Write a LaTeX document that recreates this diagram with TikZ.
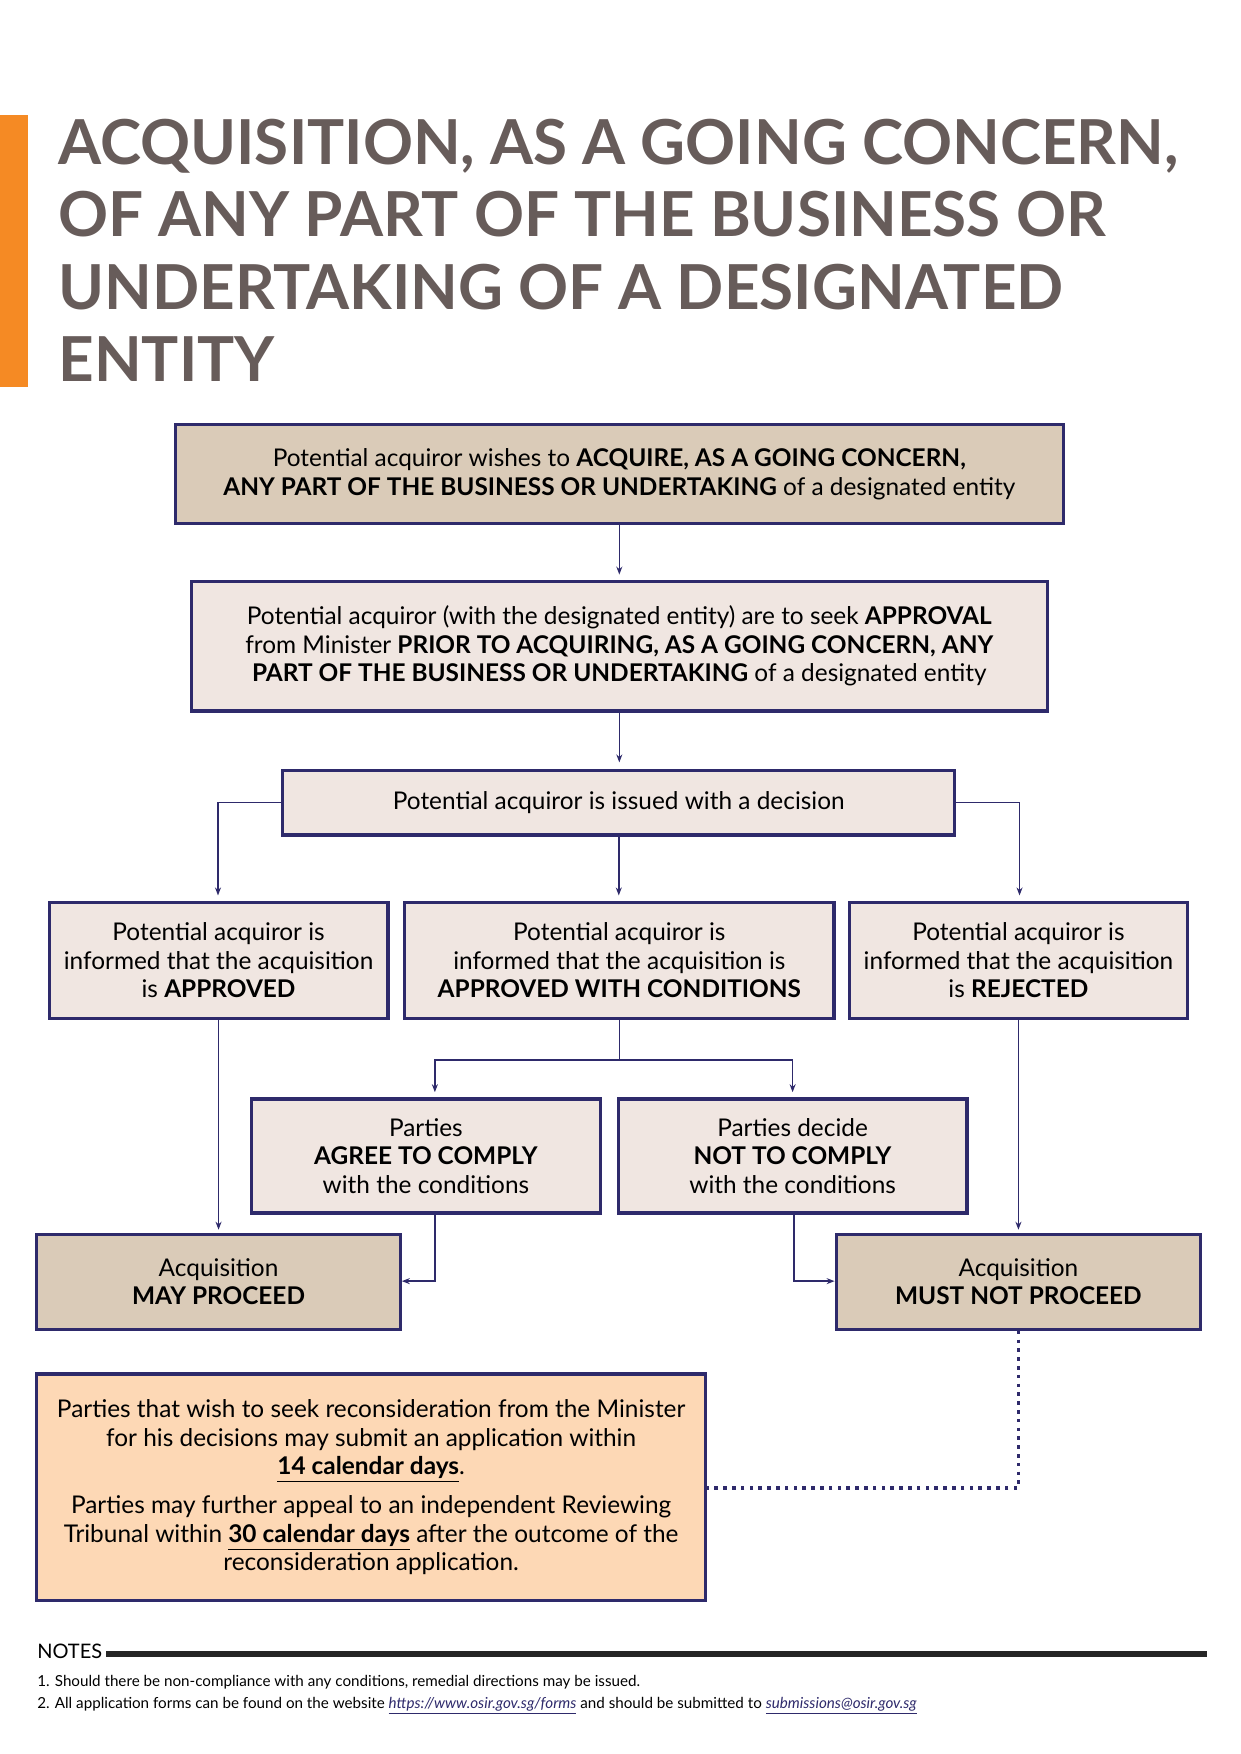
\documentclass[tikz,border=0pt]{standalone}
\usepackage{fontspec}
\setmainfont{Lato}
\usetikzlibrary{arrows.meta}
\definecolor{navy}{HTML}{2E2A6B}
\definecolor{tan}{HTML}{DACBB8}
\definecolor{pale}{HTML}{F0E6E1}
\definecolor{peach}{HTML}{FDD8B5}
\definecolor{orng}{HTML}{F58A24}
\definecolor{ttl}{HTML}{675C5A}
\begin{document}
\begin{tikzpicture}[x=0.559pt,y=-0.559pt,
  box/.style={draw=navy,line width=1.6pt,fill=pale,inner sep=0pt,align=center,font=\fontsize{12.2}{14.3}\selectfont},
  con/.style={draw=navy,line width=0.8pt,-{Stealth[length=4pt,width=3pt]}},
  ln/.style={draw=navy,line width=0.8pt}]
\useasboundingbox (0,0) rectangle (1110,1569);
\fill[orng] (0,103) rectangle (25,346);
\node[anchor=north west,inner sep=0pt,align=left,text=ttl,font=\fontsize{31}{36.3}\selectfont\bfseries] (title) at (52,106)
 {ACQUISITION, AS A GOING CONCERN,\\OF ANY PART OF THE BUSINESS OR\\UNDERTAKING OF A DESIGNATED\\ENTITY};
\newcommand{\bx}[6]{\node[box,#6,minimum width=#3*0.559pt-#1*0.559pt,minimum height=#4*0.559pt-#2*0.559pt] (#5) at ({(#1+#3)/2},{(#2+#4)/2})}
\bx{157}{380}{951}{468}{b1}{fill=tan}{Potential acquiror wishes to \textbf{ACQUIRE, AS A GOING CONCERN,}\\\textbf{ANY PART OF THE BUSINESS OR UNDERTAKING} of a designated entity};
\bx{171}{520}{937}{636}{b2}{}{Potential acquiror (with the designated entity) are to seek \textbf{APPROVAL}\\from Minister \textbf{PRIOR TO ACQUIRING, AS A GOING CONCERN, ANY}\\\textbf{PART OF THE BUSINESS OR UNDERTAKING} of a designated entity};
\bx{253}{689}{854}{747}{b3}{}{Potential acquiror is issued with a decision};
\bx{44}{807}{347}{911}{b4a}{}{Potential acquiror is\\informed that the acquisition\\is \textbf{APPROVED}};
\bx{362}{807}{746}{911}{b4b}{}{Potential acquiror is\\informed that the acquisition is\\\textbf{APPROVED WITH CONDITIONS}};
\bx{760}{807}{1062}{911}{b4c}{}{Potential acquiror is\\informed that the acquisition\\is \textbf{REJECTED}};
\bx{225}{983}{537}{1085}{b5a}{}{Parties\\\textbf{AGREE TO COMPLY}\\with the conditions};
\bx{553}{983}{865}{1085}{b5b}{}{Parties decide\\\textbf{NOT TO COMPLY}\\with the conditions};
\bx{33}{1104}{358}{1189}{b6a}{fill=tan}{Acquisition\\\textbf{MAY PROCEED}};
\bx{748}{1104}{1074}{1189}{b6b}{fill=tan}{Acquisition\\\textbf{MUST NOT PROCEED}};
\bx{33}{1229}{631}{1432}{b7}{fill=peach}{Parties that wish to seek reconsideration from the Minister\\for his decisions may submit an application within\\\textbf{\underline{14 calendar days}}.\\[5pt]Parties may further appeal to an independent Reviewing\\Tribunal within \textbf{\underline{30 calendar days}} after the outcome of the\\reconsideration application.};
\draw[con] (b1.south) -- (b1.south |- 0,514);
\draw[con] (b2.south) -- (b2.south |- 0,682);
\draw[con] (b3.south) -- (b3.south |- 0,801);
\draw[con] (b3.west) -| (195,801);
\draw[con] (b3.east) -| (912,801);
\draw[ln] (b4b.south) -- (b4b.south |- 0,948) coordinate (m);
\draw[con] (m) -| (389,977);
\draw[con] (m) -| (709,977);
\draw[con] (b4a.south) -- (b4a.south |- 0,1100);
\draw[con] (b4c.south) -- (b4c.south |- 0,1100);
\draw[con] (b5a.south -| 389,0) -- (389,1146) -- (b6a.east |- 0,1146);
\draw[con] (b5b.south -| 710,0) -- (710,1146) -- (b6b.west |- 0,1146);
\draw[navy,line width=1.8pt,dash pattern=on 1.8pt off 2.6pt] (b6b.south) -- (b6b.south |- 0,1331) -- (b7.east |- 0,1331);
\node[anchor=west,inner sep=0pt,font=\fontsize{10}{12}\selectfont] (notes) at (33,1477) {NOTES};
\fill[black!85] (95,1477) rectangle (1080,1482);
\node[anchor=west,inner sep=0pt,font=\fontsize{7.6}{9}\selectfont] (n1) at (33,1505) {1. Should there be non-compliance with any conditions, remedial directions may be issued.};
\node[anchor=west,inner sep=0pt,font=\fontsize{7.6}{9}\selectfont] (n2) at (33,1526) {2. All application forms can be found on the website \textcolor{navy}{\underline{\itshape https://www.osir.gov.sg/forms}} and should be submitted to \textcolor{navy}{\underline{\itshape submissions@osir.gov.sg}}};
\end{tikzpicture}
\end{document}
